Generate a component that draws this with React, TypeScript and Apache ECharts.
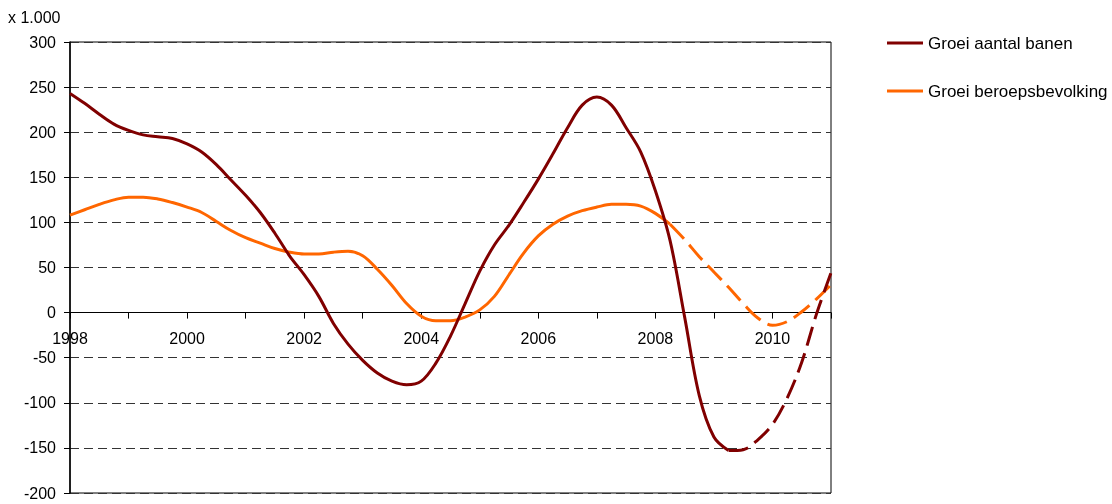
import React, { useEffect, useRef } from "react";
import * as echarts from "echarts";

const years: number[] = [
  1998, 1998.25, 1998.5, 1998.75, 1999, 1999.25, 1999.5, 1999.75,
  2000, 2000.25, 2000.5, 2000.75, 2001, 2001.25, 2001.5, 2001.75,
  2002, 2002.25, 2002.5, 2002.75, 2003, 2003.25, 2003.5, 2003.75,
  2004, 2004.25, 2004.5, 2004.75, 2005, 2005.25, 2005.5, 2005.75,
  2006, 2006.25, 2006.5, 2006.75, 2007, 2007.25, 2007.5, 2007.75,
  2008, 2008.25, 2008.5, 2008.75, 2009, 2009.25, 2009.5, 2009.75,
  2010, 2010.25, 2010.5, 2010.75, 2011,
];

const banen: number[] = [
  243, 232, 220, 209, 202, 197, 195, 193,
  187, 178, 164, 147, 130, 111, 88, 63,
  42, 18, -12, -35, -53, -67, -76, -80,
  -76, -56, -26, 10, 46, 75, 97, 122,
  148, 176, 205, 230, 239, 230, 205, 178,
  135, 80, -5, -92, -138, -153, -152, -141,
  -124, -95, -55, -2, 44,
];

const beroeps: number[] = [
  108, 114, 120, 125, 128, 128, 126, 122,
  117, 111, 101, 91, 83, 77, 71, 67,
  65, 65, 67, 68, 63, 48, 30, 10,
  -4, -9, -9, -5, 3, 18, 42, 66,
  85, 98, 107, 113, 117, 120, 120, 118,
  110, 98, 81, 62, 45, 28, 10, -6,
  -14, -10, 1, 15, 31,
];

const banenForecastFrom = 2009.25;
const beroepsForecastFrom = 2008.25;

const seriesNames = ["Groei aantal banen", "Groei beroepsbevolking"];
const unitLabel = "x 1.000";

const FONT = "Arial, 'Liberation Sans', sans-serif";
const RED = "#800000";
const ORANGE = "#FF6600";

const Y_MIN = -200;
const Y_MAX = 300;
const GRID_TOP = 42;
const GRID_H = 451;

function split(values: number[], from: number) {
  const solid: number[][] = [];
  const dashed: number[][] = [];
  years.forEach((y, i) => {
    if (y <= from) solid.push([y, values[i]]);
    if (y >= from) dashed.push([y, values[i]]);
  });
  return { solid, dashed };
}

export default function App() {
  const ref = useRef<HTMLDivElement>(null);
  useEffect(() => {
    if (!ref.current) return;
    const chart = echarts.init(ref.current, null, { renderer: "svg" });
    const b = split(banen, banenForecastFrom);
    const r = split(beroeps, beroepsForecastFrom);
    const zeroOffset = -(GRID_H * (0 - Y_MIN)) / (Y_MAX - Y_MIN);
    const lineBase = { type: "line", symbol: "none", smooth: 0.35, z: 3 };
    chart.setOption({
      animation: false,
      textStyle: { fontFamily: FONT },
      grid: {
        left: 70,
        top: GRID_TOP,
        width: 761,
        height: GRID_H,
        show: true,
        borderColor: "#000",
        borderWidth: 1,
        backgroundColor: "transparent",
      },
      legend: {
        orient: "vertical",
        left: 887,
        top: 34,
        padding: 0,
        icon: "rect",
        itemWidth: 36,
        itemHeight: 3,
        itemGap: 30,
        data: seriesNames,
        textStyle: { fontFamily: FONT, fontSize: 17, color: "#000", lineHeight: 18 },
      },
      graphic: [
        {
          type: "text",
          left: 8,
          top: 9,
          style: { text: unitLabel, font: `16px ${FONT}`, fill: "#000" },
        },
      ],
      xAxis: {
        type: "value",
        min: 1998,
        max: 2011,
        interval: 1,
        position: "bottom",
        offset: zeroOffset,
        axisLine: { onZero: false, lineStyle: { color: "#000", width: 1 } },
        axisTick: { show: true, length: 6, lineStyle: { color: "#000" } },
        axisLabel: {
          margin: 18,
          fontSize: 16,
          color: "#000",
          fontFamily: FONT,
          formatter: (v: number) => (v % 2 === 0 ? String(v) : ""),
        },
        splitLine: { show: false },
      },
      yAxis: {
        type: "value",
        min: Y_MIN,
        max: Y_MAX,
        interval: 50,
        axisLine: { show: true, lineStyle: { color: "#000", width: 1.5 } },
        axisTick: { show: true, length: 6, lineStyle: { color: "#000" } },
        axisLabel: { margin: 14, fontSize: 16, color: "#000", fontFamily: FONT },
        splitLine: { show: true, lineStyle: { color: "#333", type: [9, 5], width: 1 } },
      },
      series: [
        {
          ...lineBase,
          name: seriesNames[1],
          data: r.solid,
          lineStyle: { color: ORANGE, width: 3 },
          itemStyle: { color: ORANGE },
        },
        {
          ...lineBase,
          name: seriesNames[1],
          data: r.dashed,
          lineStyle: { color: ORANGE, width: 3, type: [20, 8] },
          itemStyle: { color: ORANGE },
        },
        {
          ...lineBase,
          name: seriesNames[0],
          data: b.solid,
          lineStyle: { color: RED, width: 3 },
          itemStyle: { color: RED },
        },
        {
          ...lineBase,
          name: seriesNames[0],
          data: b.dashed,
          lineStyle: { color: RED, width: 3, type: [20, 8] },
          itemStyle: { color: RED },
        },
      ],
    });
    return () => chart.dispose();
  }, []);
  return (
    <div
      ref={ref}
      style={{ position: "fixed", left: 0, top: 0, width: 1112, height: 504 }}
    />
  );
}
